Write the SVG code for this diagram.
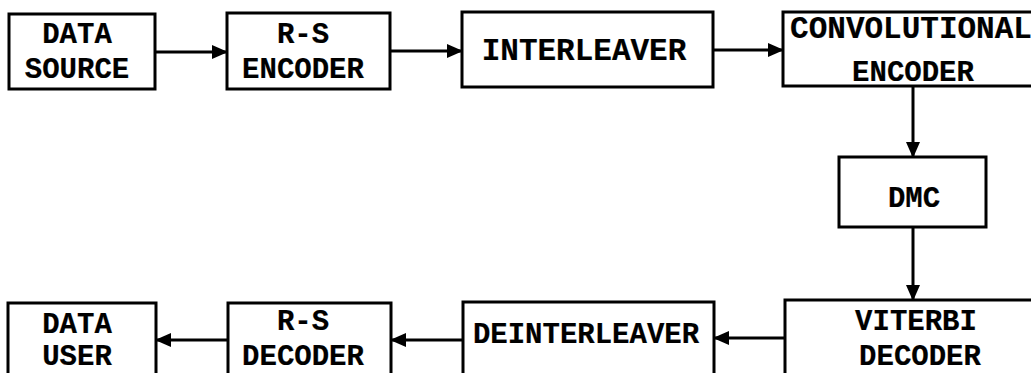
<svg xmlns="http://www.w3.org/2000/svg" width="1031" height="373" viewBox="0 0 1031 373">
<style>
rect{fill:#fff;stroke:#000;stroke-width:3}
text{font-family:"Liberation Mono","Courier New",monospace;font-weight:bold;font-size:29px;fill:#000;text-anchor:middle;stroke:#000;stroke-width:0.2}
.c line{stroke:#000;stroke-width:3}
</style>
<defs>
<marker id="ah" markerWidth="16" markerHeight="14" refX="15" refY="7" orient="auto" markerUnits="userSpaceOnUse">
<path d="M0,0 L16,7 L0,14 Z" fill="#000"/>
</marker>
</defs>
<rect x="0" y="0" width="1031" height="373" style="stroke:none"/>
<g class="c" id="connectors">
<line x1="155" y1="52" x2="227" y2="52" marker-end="url(#ah)"/>
<line x1="390" y1="51" x2="462" y2="51" marker-end="url(#ah)"/>
<line x1="713" y1="50" x2="783" y2="50" marker-end="url(#ah)"/>
<line x1="913" y1="86" x2="913" y2="157" marker-end="url(#ah)"/>
<line x1="913" y1="227" x2="913" y2="300" marker-end="url(#ah)"/>
<line x1="785" y1="338" x2="714" y2="338" marker-end="url(#ah)"/>
<line x1="463" y1="340" x2="391" y2="340" marker-end="url(#ah)"/>
<line x1="228" y1="340" x2="156" y2="340" marker-end="url(#ah)"/>
</g>
<g id="data-source"><rect x="9" y="14" width="146" height="75"/><text x="77" y="43">DATA</text><text x="77" y="78">SOURCE</text></g>
<g id="rs-encoder"><rect x="227" y="13" width="163" height="76"/><text x="303" y="43">R-S</text><text x="303" y="78">ENCODER</text></g>
<g id="interleaver"><rect x="462" y="12" width="251" height="75"/><text x="584" y="60" style="font-size:31px">INTERLEAVER</text></g>
<g id="conv-encoder"><rect x="783" y="12" width="262" height="74"/><text x="911" y="38" style="font-size:31px">CONVOLUTIONAL</text><text x="913" y="81">ENCODER</text></g>
<g id="dmc"><rect x="839" y="157" width="147" height="70"/><text x="914" y="207">DMC</text></g>
<g id="viterbi"><rect x="785" y="300" width="260" height="90"/><text x="916" y="330">VITERBI</text><text x="920" y="365">DECODER</text></g>
<g id="deinterleaver"><rect x="463" y="302" width="251" height="90"/><text x="586" y="343">DEINTERLEAVER</text></g>
<g id="rs-decoder"><rect x="228" y="303" width="163" height="90"/><text x="303" y="330">R-S</text><text x="303" y="365">DECODER</text></g>
<g id="data-user"><rect x="8" y="303" width="148" height="90"/><text x="77" y="333">DATA</text><text x="77" y="365">USER</text></g>
</svg>
